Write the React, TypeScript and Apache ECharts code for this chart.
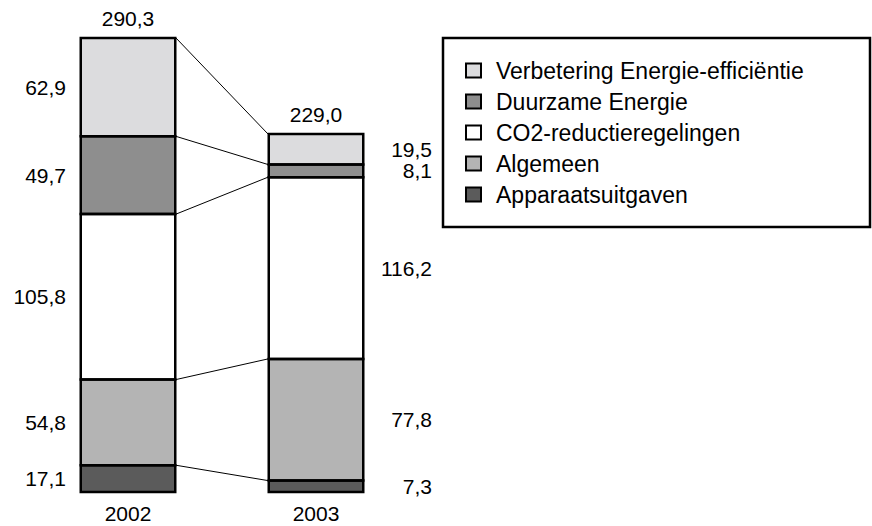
import React, { useEffect, useRef } from "react";
import * as echarts from "echarts";

const years = ["2002", "2003"];
const seriesNames = [
  "Apparaatsuitgaven",
  "Algemeen",
  "CO2-reductieregelingen",
  "Duurzame Energie",
  "Verbetering Energie-efficiëntie",
];
const apparaat = [17.1, 7.3];
const algemeen = [54.8, 77.8];
const co2 = [105.8, 116.2];
const duurzaam = [49.7, 8.1];
const verbetering = [62.9, 19.5];
const totals = [290.3, 229.0];
const legendOrder = [
  "Verbetering Energie-efficiëntie",
  "Duurzame Energie",
  "CO2-reductieregelingen",
  "Algemeen",
  "Apparaatsuitgaven",
];
const colors = ["#5b5b5b", "#b4b4b4", "#ffffff", "#8e8e8e", "#dcdcde"];

const fmt = (v: number) => v.toFixed(1).replace(".", ",");

export default function App() {
  const ref = useRef<HTMLDivElement>(null);
  useEffect(() => {
    document.body.style.margin = "0";
    if (!ref.current) return;
    const chart = echarts.init(ref.current, null, { renderer: "svg" });
    const values = [apparaat, algemeen, co2, duurzaam, verbetering];
    const barWidth = 96;
    const font = "'Liberation Sans', Arial, sans-serif";

    // cumulative bottoms/tops of each segment
    const segs: number[][] = [];
    const boundaries: number[][] = [];
    for (let s = 0; s < values.length; s++) {
      const tops = [0, 1].map((i) => {
        let sum = 0;
        for (let k = 0; k <= s; k++) sum += values[k][i];
        return sum;
      });
      boundaries.push(tops);
      [0, 1].forEach((i) => segs.push([i, tops[i] - values[s][i], tops[i]]));
    }

    const barSeries = values.map((vals, s) => ({
      type: "bar",
      name: seriesNames[s],
      stack: "total",
      barWidth,
      z: 2,
      itemStyle: { color: colors[s], borderWidth: 0 },
      data: vals.map((v, i) => ({
        value: v,
        label: {
          show: true,
          position: i === 0 ? "left" : "right",
          distance: i === 0 ? 14 : 68,
          align: "right",
          formatter: () => fmt(v),
          fontSize: 21,
          fontFamily: font,
          color: "#000",
        },
      })),
    }));

    const option: any = {
      animation: false,
      grid: { left: 34, width: 376, top: 38, height: 454 },
      xAxis: {
        type: "category",
        data: years,
        axisLine: { show: false },
        axisTick: { show: false },
        axisLabel: { fontSize: 21, fontFamily: font, color: "#000", margin: 11 },
      },
      yAxis: {
        type: "value",
        min: 0,
        max: 290.3,
        show: false,
        splitLine: { show: false },
      },
      legend: {
        data: legendOrder,
        orient: "vertical",
        left: 465,
        top: 59,
        padding: 0,
        itemGap: 8,
        itemWidth: 15,
        itemHeight: 14,
        icon: "rect",
        selectedMode: false,
        itemStyle: { borderColor: "#000", borderWidth: 2 },
        textStyle: {
          fontSize: 23,
          fontFamily: font,
          color: "#000",
          padding: [0, 0, 0, 10],
        },
      },
      graphic: [
        {
          type: "rect",
          shape: { x: 443, y: 38, width: 427, height: 189 },
          style: { fill: "none", stroke: "#000", lineWidth: 2.5 },
        },
      ],
      series: [
        ...barSeries,
        {
          type: "custom",
          name: "outlines",
          z: 5,
          clip: false,
          encode: { x: 0, y: [1, 2] },
          data: segs,
          renderItem: (params: any, api: any) => {
            const pb = api.coord([api.value(0), api.value(1)]);
            const pt = api.coord([api.value(0), api.value(2)]);
            const w = barWidth - 1.5;
            return {
              type: "rect",
              z2: 10,
              shape: { x: pb[0] - w / 2, y: pt[1], width: w, height: pb[1] - pt[1] },
              style: { fill: "rgba(0,0,0,0)", stroke: "#000", lineWidth: 2.5 },
            };
          },
        },
        {
          type: "custom",
          name: "connectors",
          z: 5,
          data: boundaries,
          renderItem: (params: any, api: any) => {
            const p1 = api.coord([0, api.value(0)]);
            const p2 = api.coord([1, api.value(1)]);
            return {
              type: "line",
              shape: { x1: p1[0] + barWidth / 2, y1: p1[1], x2: p2[0] - barWidth / 2, y2: p2[1] },
              style: { stroke: "#000", lineWidth: 1 },
            };
          },
        },
        {
          type: "custom",
          name: "totals",
          z: 5,
          data: totals.map((t, i) => [i, t]),
          renderItem: (params: any, api: any) => {
            const p = api.coord([api.value(0), api.value(1)]);
            return {
              type: "text",
              x: p[0],
              y: p[1] - 9,
              style: {
                text: fmt(api.value(1)),
                fontSize: 21,
                fontFamily: font,
                fill: "#000",
                align: "center",
                verticalAlign: "bottom",
              },
            };
          },
        },
      ],
    };
    chart.setOption(option);
    return () => chart.dispose();
  }, []);
  return <div ref={ref} style={{ width: 872, height: 526 }} />;
}
